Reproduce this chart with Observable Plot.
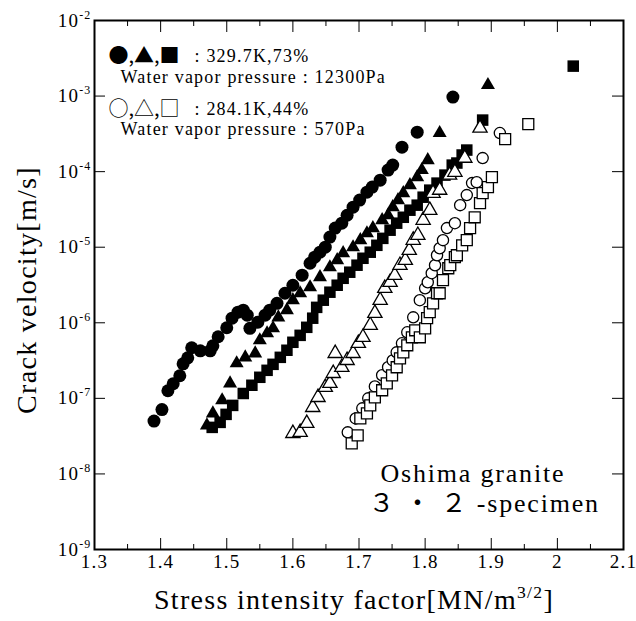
<!DOCTYPE html>
<html><head><meta charset="utf-8">
<script src="https://cdn.jsdelivr.net/npm/d3@7"></script>
<script src="https://cdn.jsdelivr.net/npm/@observablehq/plot@0.6"></script>
<style>body{margin:0;background:#fff}</style>
</head><body><div id="chart"></div>
<script>
// 329.7K, 73% (filled symbols)
const circFilledK=[1.390,1.402,1.411,1.419,1.429,1.434,1.441,1.447,1.460,1.475,1.479,1.487,1.500,1.508,1.517,1.525,1.531,1.535,1.547,1.558,1.565,1.576,1.588,1.600,1.614,1.626,1.633,1.641,1.649,1.656,1.664,1.674,1.682,1.691,1.701,1.712,1.720,1.732,1.744,1.751,1.765,1.788,1.842];
const circFilledV=[5.0e-8,7.1e-8,1.26e-7,1.56e-7,1.99e-7,2.86e-7,3.44e-7,4.67e-7,4.26e-7,4.26e-7,4.95e-7,6.53e-7,8.59e-7,1.15e-6,1.38e-6,1.47e-6,1.26e-6,8.45e-7,1.02e-6,1.26e-6,1.47e-6,1.81e-6,2.46e-6,3.14e-6,4.26e-6,6.14e-6,7.38e-6,8.59e-6,1.0e-5,1.36e-5,1.79e-5,2.08e-5,2.65e-5,3.39e-5,4.2e-5,5.35e-5,6.24e-5,7.71e-5,1.05e-4,1.22e-4,2.11e-4,3.33e-4,9.7e-4];
const triFilledK=[1.470,1.479,1.493,1.505,1.515,1.528,1.543,1.550,1.561,1.570,1.578,1.591,1.600,1.611,1.626,1.641,1.656,1.667,1.676,1.691,1.702,1.712,1.721,1.735,1.744,1.751,1.759,1.767,1.777,1.788,1.795,1.804,1.822,1.895];
const triFilledV=[4.39e-8,6.32e-8,9.42e-8,1.58e-7,2.91e-7,3.49e-7,3.94e-7,5.86e-7,7.26e-7,8.45e-7,1.18e-6,1.47e-6,1.99e-6,2.46e-6,2.95e-6,4.01e-6,5.43e-6,6.73e-6,8.34e-6,1.0e-5,1.24e-5,1.53e-5,1.79e-5,2.28e-5,2.65e-5,3.39e-5,4.2e-5,5.19e-5,6.62e-5,8.45e-5,1.05e-4,1.42e-4,3.24e-4,1.4e-3];
const sqFilledK=[1.478,1.490,1.499,1.509,1.525,1.538,1.550,1.561,1.570,1.581,1.591,1.600,1.611,1.621,1.630,1.636,1.646,1.656,1.667,1.676,1.686,1.697,1.706,1.717,1.727,1.736,1.747,1.757,1.767,1.777,1.788,1.797,1.807,1.818,1.830,1.841,1.848,1.856,1.863,1.887,2.024];
const sqFilledV=[4.13e-8,4.81e-8,6.14e-8,8.07e-8,1.16e-7,1.49e-7,1.9e-7,2.35e-7,2.82e-7,3.49e-7,4.33e-7,5.52e-7,6.82e-7,8.71e-7,1.15e-6,1.6e-6,1.99e-6,2.54e-6,3.14e-6,3.88e-6,4.67e-6,5.78e-6,7.14e-6,8.59e-6,1.06e-5,1.31e-5,1.68e-5,2.08e-5,2.49e-5,3.09e-5,3.6e-5,4.59e-5,5.69e-5,7.05e-5,9.0e-5,1.22e-4,1.3e-4,1.66e-4,1.93e-4,4.81e-4,2.49e-3];
// 284.1K, 44% (open symbols)
const triOpenK=[1.600,1.611,1.621,1.630,1.638,1.649,1.656,1.661,1.664,1.674,1.682,1.691,1.699,1.706,1.717,1.724,1.732,1.739,1.747,1.754,1.762,1.770,1.776,1.782,1.789,1.797,1.807,1.812,1.822,1.837,1.845,1.860,1.883];
const triOpenV=[3.44e-8,3.55e-8,4.67e-8,7.6e-8,1.03e-7,1.4e-7,1.58e-7,2.14e-7,3.94e-7,2.58e-7,3.18e-7,3.94e-7,5.35e-7,6.43e-7,9.27e-7,1.34e-6,1.99e-6,2.86e-6,3.44e-6,4.26e-6,5.78e-6,6.73e-6,9.1e-6,1.24e-5,1.44e-5,2.28e-5,3.09e-5,5.19e-5,5.69e-5,9.0e-5,9.84e-5,1.51e-4,3.77e-4];
const circOpenK=[1.683,1.695,1.705,1.714,1.724,1.735,1.744,1.751,1.757,1.765,1.773,1.782,1.792,1.800,1.804,1.810,1.815,1.818,1.822,1.827,1.833,1.845,1.853,1.863,1.871,1.878,1.887,1.913];
const circOpenV=[3.55e-8,5.43e-8,7.38e-8,1.0e-7,1.44e-7,2.02e-7,2.58e-7,3.18e-7,4.06e-7,5.35e-7,7.48e-7,1.18e-6,1.99e-6,2.86e-6,3.44e-6,4.53e-6,5.78e-6,7.83e-6,9.7e-6,1.24e-5,1.79e-5,2.08e-5,3.6e-5,4.89e-5,7.05e-5,7.26e-5,1.51e-4,3.24e-4];
const sqOpenK=[1.689,1.698,1.702,1.712,1.717,1.724,1.735,1.742,1.750,1.757,1.762,1.767,1.773,1.780,1.785,1.792,1.800,1.803,1.807,1.812,1.818,1.822,1.827,1.835,1.838,1.845,1.848,1.856,1.863,1.868,1.875,1.883,1.887,1.895,1.901,1.921,1.956];
const sqOpenV=[2.54e-8,3.24e-8,5.43e-8,6.32e-8,8.07e-8,1.03e-7,1.28e-7,1.58e-7,2.02e-7,2.58e-7,3.39e-7,4.06e-7,5.04e-7,6.43e-7,7.96e-7,6.43e-7,8.45e-7,1.15e-6,1.38e-6,1.81e-6,2.46e-6,2.46e-6,3.66e-6,5.27e-6,5.78e-6,7.38e-6,7.83e-6,1.06e-5,1.24e-5,1.79e-5,2.49e-5,3.83e-5,5.19e-5,6.24e-5,8.45e-5,2.69e-4,4.26e-4];

const xTicks=[1.3,1.4,1.5,1.6,1.7,1.8,1.9,2.0,2.1];
const xTickLabels=["1.3","1.4","1.5","1.6","1.7","1.8","1.9","2","2.1"];
const xMinorTicks=[1.35,1.45,1.55,1.65,1.75,1.85,1.95,2.05];
const yTicks=[1e-9,1e-8,1e-7,1e-6,1e-5,1e-4,1e-3,1e-2];
const yTickLabels=["10^{-9}","10^{-8}","10^{-7}","10^{-6}","10^{-5}","10^{-4}","10^{-3}","10^{-2}"];

const xLabel="Stress intensity factor[MN/m^{3/2}]";
const yLabel="Crack velocity[m/s]";
const legendSymbols=["●,▲,■","○,△,□"];
const legendConditions=[": 329.7K,73%",": 284.1K,44%"];
const legendPressures=["Water vapor pressure : 12300Pa","Water vapor pressure : 570Pa"];
const noteLines=["Oshima granite","３ ・ ２ -specimen"];

const pts=(K,V)=>K.map((k,i)=>({k,v:V[i]}));
const serif="'Liberation Serif','Times New Roman',serif";
const cjk="'Noto Sans CJK JP',sans-serif";
const txt=(s,o)=>Plot.text([s],{frameAnchor:"top-left",textAnchor:"start",lineAnchor:"middle",...o});

const chart=Plot.plot({
  width:636,height:621,
  marginLeft:94,marginRight:13,marginTop:20,marginBottom:72,
  style:{fontFamily:serif,letterSpacing:"1.2px",background:"white",color:"black"},
  x:{domain:[1.3,2.1]},
  y:{type:"log",domain:[1e-9,1e-2]},
  marks:[
    Plot.axisX({ticks:xTicks,tickSize:-11,tickPadding:16,fontSize:19,tickFormat:d=>xTickLabels[xTicks.indexOf(d)],label:null}),
    Plot.axisX({ticks:xMinorTicks,tickSize:-5,tickFormat:()=>"",label:null}),
    Plot.axisX({anchor:"top",ticks:xTicks,tickSize:-11,tickFormat:()=>"",label:null}),
    Plot.axisX({anchor:"top",ticks:xMinorTicks,tickSize:-5,tickFormat:()=>"",label:null}),
    Plot.axisY({ticks:yTicks,tickSize:-11,tickPadding:14,fontSize:19,tickFormat:d=>yTickLabels[yTicks.indexOf(d)],label:null}),
    Plot.axisY({anchor:"right",ticks:yTicks,tickSize:-12,tickFormat:()=>"",label:null}),
    Plot.frame({stroke:"black",strokeWidth:2}),
    Plot.dot(pts(circFilledK,circFilledV),{x:"k",y:"v",r:6.5,fill:"black"}),
    Plot.dot(pts(triFilledK,triFilledV),{x:"k",y:"v",symbol:"triangle",r:5.2,fill:"black"}),
    Plot.dot(pts(sqFilledK,sqFilledV),{x:"k",y:"v",symbol:"square",r:6.5,fill:"black"}),
    Plot.dot(pts(triOpenK,triOpenV),{x:"k",y:"v",symbol:"triangle",r:5.3,fill:"white",stroke:"black",strokeWidth:1.3}),
    Plot.dot(pts(circOpenK,circOpenV),{x:"k",y:"v",r:5.6,fill:"white",stroke:"black",strokeWidth:1.3}),
    Plot.dot(pts(sqOpenK,sqOpenV),{x:"k",y:"v",symbol:"square",r:6.2,fill:"white",stroke:"black",strokeWidth:1.3}),
    // legend
    txt(legendSymbols[0],{dx:14,dy:36,fontSize:20,fontFamily:cjk}),
    txt(legendConditions[0],{dx:100,dy:36,fontSize:18}),
    txt(legendPressures[0],{dx:26,dy:57,fontSize:18}),
    txt(legendSymbols[1],{dx:14,dy:89,fontSize:20,fontFamily:cjk}),
    txt(legendConditions[1],{dx:100,dy:89,fontSize:18}),
    txt(legendPressures[1],{dx:26,dy:109,fontSize:18}),
    // specimen note
    txt(noteLines[0],{dx:286,dy:453,fontSize:26}),
    txt(noteLines[1],{dx:274,dy:483,fontSize:26,fontFamily:"'Liberation Serif','Noto Sans CJK JP',serif"}),
    // axis titles
    Plot.text([xLabel],{frameAnchor:"bottom",textAnchor:"middle",lineAnchor:"middle",dx:-5,dy:51,fontSize:28}),
    Plot.text([yLabel],{frameAnchor:"left",textAnchor:"middle",lineAnchor:"middle",rotate:-90,dx:-67,dy:5,fontSize:28})
  ]
});
document.getElementById("chart").append(chart);

// superscripts and letter spacing
d3.select(chart).selectAll("text").each(function(){
  const s=this.textContent;
  const sel=d3.select(this);
  if(s===xLabel||s===yLabel) sel.style("letter-spacing","1.3px");
  if(noteLines.includes(s)) sel.style("letter-spacing","1.8px");
  if(legendSymbols.includes(s)) sel.style("letter-spacing","0px");
  const m=s.match(/^(.*?)\^\{(.*?)\}(.*)$/);
  if(!m) return;
  const fs=parseFloat(getComputedStyle(this).fontSize);
  sel.text(null);
  sel.append("tspan").text(m[1]);
  sel.append("tspan").attr("dy",-0.42*fs).attr("font-size",0.63*fs).text(m[2]);
  if(m[3]) sel.append("tspan").attr("dy",0.42*fs).text(m[3]);
});
</script>
</body></html>
